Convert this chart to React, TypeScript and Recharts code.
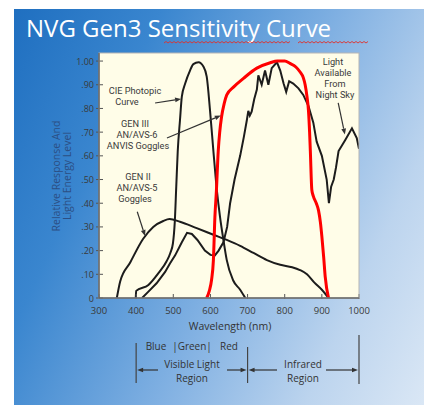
import { LineChart, Line, XAxis, YAxis, CartesianGrid, ReferenceLine } from "recharts";

const xTicks = [300, 400, 500, 600, 700, 800, 900, 1000];
const yTicks = [0, 0.1, 0.2, 0.3, 0.4, 0.5, 0.6, 0.7, 0.8, 0.9, 1.0];
const yTickLabels = ["0", ".10", ".20", ".30", ".40", ".50", ".60", ".70", ".80", ".90", "1.00"];

// CIE photopic curve
const photopicNm = [399, 400, 433, 460, 482, 492, 499, 504, 508, 512, 518, 523, 532, 545, 554, 568, 581, 590, 599, 608, 617, 626, 635, 644, 661, 680, 694];
const photopicVal = [0, 0.03, 0.055, 0.105, 0.155, 0.19, 0.23, 0.32, 0.47, 0.62, 0.75, 0.85, 0.905, 0.96, 0.987, 0.995, 0.977, 0.934, 0.79, 0.62, 0.46, 0.34, 0.245, 0.16, 0.075, 0.035, 0];

// Gen II AN/AVS-5
const gen2Nm = [348, 357, 384, 419, 446, 473, 490, 518, 563, 608, 644, 680, 716, 752, 788, 820, 841, 860, 880, 900, 918];
const gen2Val = [0, 0.07, 0.15, 0.25, 0.3, 0.325, 0.333, 0.322, 0.295, 0.267, 0.245, 0.22, 0.19, 0.16, 0.14, 0.13, 0.118, 0.1, 0.065, 0.035, 0];

// black wiggly curve (Gen III original + night sky)
const skyNm = [416, 433, 455, 478, 491, 505, 523, 537, 550, 565, 585, 600, 612, 622, 635, 645, 653, 665, 680, 690, 698, 702, 706, 711, 718, 725, 729, 738, 747, 756, 765, 779, 788, 797, 804, 812, 823, 837, 850, 864, 877, 886, 900, 913, 919, 925, 932, 938, 945, 963, 981, 994, 1000];
const skyVal = [0, 0.027, 0.062, 0.11, 0.146, 0.18, 0.235, 0.275, 0.27, 0.245, 0.2, 0.182, 0.18, 0.2, 0.235, 0.3, 0.4, 0.5, 0.6, 0.68, 0.75, 0.79, 0.77, 0.786, 0.84, 0.88, 0.94, 0.9, 0.96, 0.9, 0.97, 0.995, 0.96, 0.905, 0.87, 0.915, 0.905, 0.885, 0.857, 0.81, 0.74, 0.66, 0.6, 0.5, 0.4, 0.47, 0.5, 0.55, 0.62, 0.667, 0.716, 0.675, 0.63];

// Gen III AN/AVS-6 (red)
const gen3Nm = [590, 597, 603, 608, 612, 616, 621, 625, 630, 637, 644, 662, 689, 725, 761, 780, 800, 814, 830, 841, 850, 855, 860, 864, 867, 869, 873, 877, 885, 891, 896, 900, 905, 909, 918];
const gen3Val = [0, 0.03, 0.076, 0.16, 0.34, 0.45, 0.62, 0.7, 0.765, 0.82, 0.857, 0.89, 0.927, 0.97, 0.993, 1.0, 1.0, 0.99, 0.975, 0.955, 0.93, 0.9, 0.85, 0.79, 0.7, 0.62, 0.456, 0.43, 0.4, 0.37, 0.32, 0.26, 0.17, 0.09, 0];

// annotation arrows (data coords)
const arrows = [
  { from: [451, 0.823], to: [521, 0.84] },
  { from: [483, 0.675], to: [628, 0.77] },
  { from: [403, 0.364], to: [424, 0.262] },
  { from: [944, 0.823], to: [962, 0.69] },
];

const zip = (nm: number[], v: number[]) => nm.map((x, i) => ({ nm: x, v: v[i] }));

const PL = 99, PR = 359, PT = 53, PB = 298;
const xp = (nm: number) => PL + ((nm - 300) / 700) * (PR - PL);

const FONT = "'Open Sans', sans-serif";
const NOTE = "Roboto, sans-serif";

const Arrow = (p: any) => {
  const { x1, y1, x2, y2 } = p;
  const a = Math.atan2(y2 - y1, x2 - x1);
  const L = 6, W = 2.4;
  const bx = x2 - L * Math.cos(a), by = y2 - L * Math.sin(a);
  const pts = `${x2},${y2} ${bx - W * Math.sin(a)},${by + W * Math.cos(a)} ${bx + W * Math.sin(a)},${by - W * Math.cos(a)}`;
  return (
    <g>
      <line x1={x1} y1={y1} x2={bx} y2={by} stroke="#333" strokeWidth={1.2} />
      <polygon points={pts} fill="#333" />
    </g>
  );
};

const XTick = (p: any) => {
  const { x, y, payload } = p;
  return (
    <g>
      <line x1={x} x2={x} y1={y - 4} y2={y + 1} stroke="#555" strokeWidth={1} />
      <text x={x} y={y + 16} textAnchor="middle" fontSize={9.5} fill="#3a3a3a" fontFamily={FONT}>
        {payload.value}
      </text>
    </g>
  );
};

const YTick = (p: any) => {
  const { x, y, payload } = p;
  const i = yTicks.indexOf(payload.value);
  return (
    <g>
      <line x1={x - 3} x2={x + 4} y1={y} y2={y} stroke="#555" strokeWidth={1} />
      <text x={x - 5} y={y + 3.5} textAnchor="end" fontSize={9} fill="#3a3a3a" fontFamily={FONT}>
        {yTickLabels[i]}
      </text>
    </g>
  );
};

const HArrow = ({ x1, x2, y }: { x1: number; x2: number; y: number }) => {
  const d = x2 > x1 ? 1 : -1;
  return (
    <g>
      <line x1={x1} x2={x2 - d * 5} y1={y} y2={y} stroke="#333" strokeWidth={1.2} />
      <polygon points={`${x2},${y} ${x2 - d * 6},${y - 2.3} ${x2 - d * 6},${y + 2.3}`} fill="#333" />
    </g>
  );
};

// red spell-check squiggle under a word span
const squiggle = (x1: number, x2: number, y: number) => {
  let d = `M${x1} ${y}`;
  let up = true;
  for (let x = x1 + 2; x <= x2; x += 2) {
    d += ` L${x} ${up ? y - 1.5 : y}`;
    up = !up;
  }
  return d;
};

export default function App() {
  const t = { fontFamily: NOTE, fontSize: 9.2, fill: "#3a3a3a", textAnchor: "middle" as const };
  const b = { fontFamily: FONT, fontSize: 10, fill: "#333", textAnchor: "middle" as const };
  return (
    <div style={{ position: "absolute", left: 0, top: 0, width: 424, height: 405, background: "#fff", overflow: "hidden" }}>
      <div
        style={{
          position: "absolute",
          left: 14,
          top: 9,
          right: 0,
          bottom: 0,
          background: "linear-gradient(115deg, #1f6fc0 0%, #3a86cf 25%, #80b0e2 55%, #bcd4ee 80%, #dae7f5 100%)",
        }}
      />
      <div style={{ position: "absolute", left: 0, top: 0 }}>
        <LineChart width={424} height={405} margin={{ top: PT, right: 424 - PR, bottom: 405 - PB - 30, left: PL - 40 }}>
          <CartesianGrid horizontal={false} vertical={false} fill="#fffde8" />
          <XAxis
            dataKey="nm"
            type="number"
            domain={[300, 1000]}
            ticks={xTicks}
            allowDataOverflow
            height={30}
            tickSize={0}
            tickMargin={0}
            tick={<XTick />}
            axisLine={{ stroke: "#555" }}
            tickLine={false}
          />
          <YAxis
            type="number"
            domain={[0, 1.034]}
            ticks={yTicks}
            allowDataOverflow
            width={40}
            tickSize={0}
            tickMargin={0}
            tick={<YTick />}
            axisLine={{ stroke: "#555" }}
            tickLine={false}
          />
          <Line data={zip(gen2Nm, gen2Val)} dataKey="v" type="monotone" stroke="#1c1c1c" strokeWidth={2} dot={false} isAnimationActive={false} />
          <Line data={zip(photopicNm, photopicVal)} dataKey="v" type="monotone" stroke="#1c1c1c" strokeWidth={2} dot={false} isAnimationActive={false} />
          <Line data={zip(skyNm, skyVal)} dataKey="v" type="linear" stroke="#1c1c1c" strokeWidth={2} dot={false} isAnimationActive={false} />
          <Line data={zip(gen3Nm, gen3Val)} dataKey="v" type="monotone" stroke="#ff0000" strokeWidth={3} dot={false} isAnimationActive={false} />
          {arrows.map((a, i) => (
            <ReferenceLine
              key={i}
              segment={[{ x: a.from[0], y: a.from[1] }, { x: a.to[0], y: a.to[1] }]}
              shape={Arrow}
            />
          ))}
        </LineChart>
      </div>
      <svg width={424} height={405} style={{ position: "absolute", left: 0, top: 0, pointerEvents: "none" }}>
        <text x={26} y={37} fontFamily={FONT} fontSize={24} fill="#fff">
          NVG Gen3 Sensitivity Curve
        </text>
        <path d={squiggle(164, 290, 43)} stroke="#e0302a" strokeWidth={0.9} fill="none" />
        <path d={squiggle(298, 368, 43)} stroke="#e0302a" strokeWidth={0.9} fill="none" />
        <rect x={PL} y={PT} width={PR - PL} height={PB - PT} fill="none" stroke="#b5b5b5" strokeWidth={1} />
        <line x1={PL} y1={PT} x2={PL} y2={PB} stroke="#555" />
        <line x1={PL} y1={PB} x2={PR} y2={PB} stroke="#555" />

        <text transform="translate(59.5,176) rotate(-90)" fontFamily={FONT} fontSize={10.5} fill="#2c4f84" textAnchor="middle">
          Relative Response And
        </text>
        <text transform="translate(70.5,176) rotate(-90)" fontFamily={FONT} fontSize={10.5} fill="#2c4f84" textAnchor="middle">
          Light Energy Level
        </text>

        <text {...t} x={135} y={94}>CIE Photopic</text>
        <text {...t} x={127} y={105}>Curve</text>
        <text {...t} x={135} y={127}>GEN III</text>
        <text {...t} x={137} y={138}>AN/AVS-6</text>
        <text {...t} x={138} y={149}>ANVIS Goggles</text>
        <text {...t} x={138} y={180}>GEN II</text>
        <text {...t} x={137} y={191}>AN/AVS-5</text>
        <text {...t} x={135} y={202}>Goggles</text>
        <text {...t} x={333} y={65}>Light</text>
        <text {...t} x={333} y={76}>Available</text>
        <text {...t} x={335} y={87}>From</text>
        <text {...t} x={335} y={98}>Night Sky</text>

        <text {...b} fontSize={10.5} x={230} y={330}>Wavelength (nm)</text>
        <text {...b} x={156} y={350}>Blue</text>
        <text {...b} x={192} y={350}>|Green|</text>
        <text {...b} x={229} y={350}>Red</text>
        <line x1={xp(400)} x2={xp(400)} y1={343} y2={383} stroke="#444" strokeWidth={1.2} />
        <line x1={xp(700)} x2={xp(700)} y1={347} y2={383} stroke="#444" strokeWidth={1.2} />
        <line x1={xp(1000)} x2={xp(1000)} y1={335} y2={384} stroke="#444" strokeWidth={1.2} />
        <HArrow x1={158} x2={xp(400) + 1} y={370} />
        <HArrow x1={227} x2={xp(700) - 1} y={370} />
        <HArrow x1={277} x2={xp(700) + 1} y={370} />
        <HArrow x1={326} x2={xp(1000) - 1} y={370} />
        <text {...b} x={192} y={368}>Visible Light</text>
        <text {...b} x={192} y={382}>Region</text>
        <text {...b} x={303} y={368}>Infrared</text>
        <text {...b} x={303} y={382}>Region</text>
      </svg>
    </div>
  );
}
